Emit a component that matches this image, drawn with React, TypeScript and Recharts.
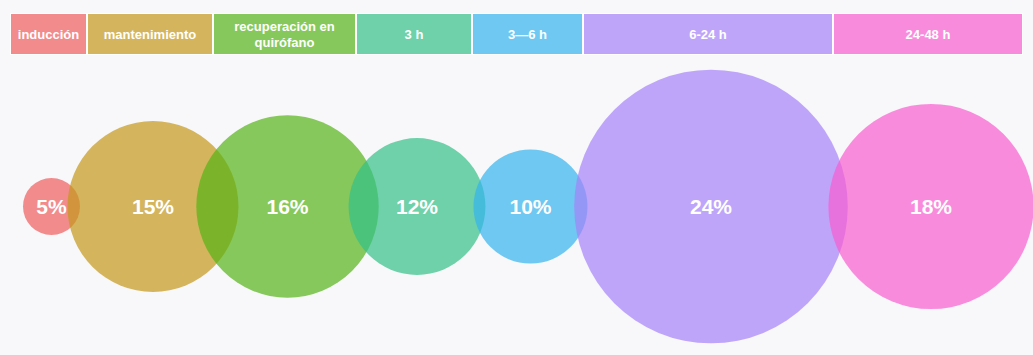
import React from 'react';
import { BarChart, Bar, ScatterChart, Scatter, XAxis, YAxis, LabelList } from 'recharts';

// phases of the perioperative period, header band widths
const phases = ['inducción', 'mantenimiento', 'recuperación en\nquirófano', '3 h', '3—6 h', '6-24 h', '24-48 h'];
const phaseSpans = [77, 126, 143, 116, 111, 250, 190];
const shares = [5, 15, 16, 12, 10, 24, 18];
const colors = ['#ef5d5d', '#c49819', '#55b417', '#33c188', '#33b3ec', '#a581fa', '#fa5dd0'];

const BG = '#f8f8fa';
const FONT = '"Liberation Sans", Arial, Helvetica, sans-serif';
const RADIUS_PER_PCT = 5.7;

const total = phaseSpans.reduce((a, b) => a + b, 0);

// one stacked row for the header
const headerRow: Record<string, any> = { row: 'fases' };
phaseSpans.forEach((s, i) => {
  headerRow[`p${i}`] = s;
});

// bubble centres sit at the middle of each header segment, all on one baseline
let acc = 0;
const bubbles = shares.map((v, i) => {
  const x = acc + phaseSpans[i] / 2;
  acc += phaseSpans[i];
  return { x, level: 0, value: v, color: colors[i] };
});

const Bubble = (props: any) => {
  const { cx, cy, payload } = props;
  return <circle cx={cx} cy={cy} r={payload.value * RADIUS_PER_PCT} fill={payload.color} fillOpacity={0.7} />;
};

const headerLabel = (name: string) => (props: any) => {
  const { x, y, width, height } = props;
  const lines = name.split('\n');
  const lh = 16;
  const cx = x + width / 2;
  const cy = y + height / 2 - ((lines.length - 1) * lh) / 2;
  return (
    <text x={cx} textAnchor="middle" fill="#ffffff" fontSize={13} fontWeight={700} fontFamily={FONT}>
      {lines.map((l, i) => (
        <tspan key={i} x={cx} y={cy + i * lh} dominantBaseline="central">
          {l}
        </tspan>
      ))}
    </text>
  );
};

const pctLabel = (props: any) => {
  const { x, y, width, height, value } = props;
  return (
    <text
      x={x + width / 2}
      y={y + height / 2}
      textAnchor="middle"
      dominantBaseline="central"
      fill="#ffffff"
      fontSize={21}
      fontWeight={700}
      fontFamily={FONT}
    >
      {`${value}%`}
    </text>
  );
};

export default function App() {
  return (
    <div style={{ position: 'absolute', left: 0, top: 0, width: 1033, height: 355, background: BG, overflow: 'hidden' }}>
      <div style={{ position: 'absolute', left: 13, top: 54 }}>
        <ScatterChart width={1020} height={301} margin={{ top: 4, right: 7, bottom: 0, left: 0 }}>
          <XAxis type="number" dataKey="x" domain={[0, total]} hide />
          <YAxis type="number" dataKey="level" domain={[-1, 1]} hide />
          <Scatter data={bubbles} shape={Bubble} isAnimationActive={false}>
            <LabelList dataKey="value" content={pctLabel} />
          </Scatter>
        </ScatterChart>
      </div>
      <div style={{ position: 'absolute', left: 10, top: 13 }}>
        <BarChart width={1013} height={42} data={[headerRow]} layout="vertical" margin={{ top: 0, right: 0, bottom: 0, left: 0 }} barCategoryGap={0}>
          <XAxis type="number" domain={[0, total]} hide />
          <YAxis type="category" dataKey="row" hide />
          {phases.map((p, i) => (
            <Bar key={p} dataKey={`p${i}`} stackId="h" fill={colors[i]} fillOpacity={0.7} stroke="#ffffff" strokeWidth={2} isAnimationActive={false}>
              <LabelList dataKey={`p${i}`} content={headerLabel(p)} />
            </Bar>
          ))}
        </BarChart>
      </div>
    </div>
  );
}
